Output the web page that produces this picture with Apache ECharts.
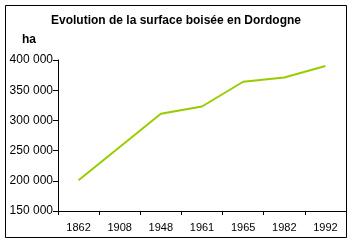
<!DOCTYPE html>
<html>
<head>
<meta charset="utf-8">
<script src="https://cdn.jsdelivr.net/npm/echarts@6/dist/echarts.min.js"></script>
<style>
	html,body{margin:0;padding:0;background:#fff;}
	#main{width:352px;height:244px;}
</style>
</head>
<body>
<div id="main"></div>
<script type="text/javascript">
	// données
	var years = ["1862","1908","1948","1961","1965","1982","1992"];
	var surface = [201000, null, 311000, 323000, 364000, 371000, 390000];//1908 : pas de valeur
	var yTicks = [150000, 200000, 250000, 300000, 350000, 400000];

	var chart = echarts.init(document.getElementById("main"));

	//format "400 000"
	function fmt(v){
		return String(v).replace(/\B(?=(\d{3})+(?!\d))/g, " ");
	}

	var option = {
		animation:false,
		textStyle:{fontFamily:"Liberation Sans, Arial, sans-serif"},
		title:{
			text:"Evolution de la surface boisée en Dordogne",
			left:"center",
			top:10,
			textStyle:{fontSize:12,fontWeight:"bold",color:"#000"}
		},
		graphic:[
			{type:"rect",shape:{x:5.5,y:5.5,width:341,height:232},style:{fill:null,stroke:"#000",lineWidth:1},silent:true},
			{type:"text",left:22,top:34,style:{text:"ha",font:"bold 12px Liberation Sans, Arial, sans-serif",fill:"#000"}}
		],
		grid:{left:58,right:6,top:60,bottom:33},
		xAxis:{
			type:"category",
			data:years,
			boundaryGap:true,
			axisLine:{lineStyle:{color:"#000",width:1}},
			axisTick:{show:true,length:4,inside:false,lineStyle:{color:"#000"}},
			axisLabel:{color:"#000",fontSize:11,margin:11},
			splitLine:{show:false}
		},
		yAxis:{
			type:"value",
			min:yTicks[0],
			max:yTicks[yTicks.length-1],
			interval:50000,
			axisLine:{show:true,lineStyle:{color:"#000",width:1}},
			axisTick:{show:true,length:5,lineStyle:{color:"#000"}},
			axisLabel:{color:"#000",fontSize:12,margin:5,formatter:fmt},
			splitLine:{show:false}
		},
		series:[{
			type:"line",
			data:surface,
			connectNulls:true,
			symbol:"none",
			lineStyle:{color:"#99cc00",width:2}
		}]
	};

	chart.setOption(option);
</script>
</body>
</html>
